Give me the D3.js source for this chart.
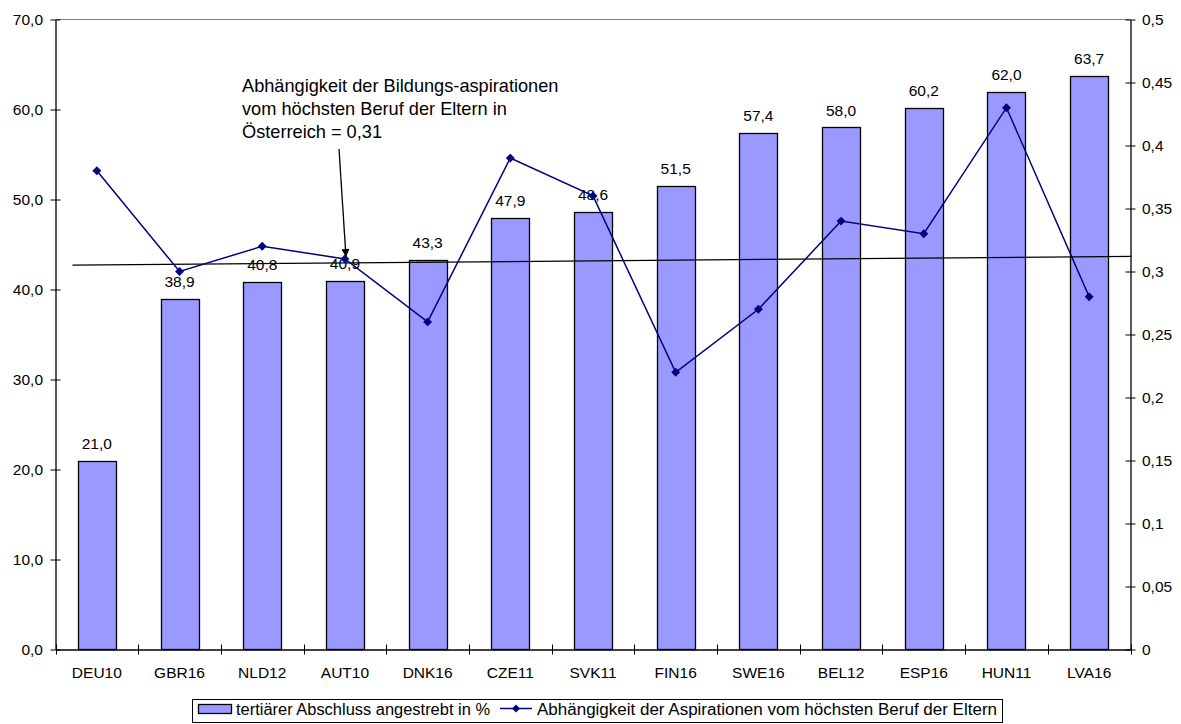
<!DOCTYPE html>
<html><head><meta charset="utf-8">
<script src="https://cdn.jsdelivr.net/npm/d3@7"></script>
<style>body{margin:0;background:#fff;} svg{display:block;font-family:"Liberation Sans",Arial,sans-serif;}</style>
</head><body>
<svg id="c" width="1181" height="724"></svg>
<script>
const categories = ["DEU10","GBR16","NLD12","AUT10","DNK16","CZE11","SVK11","FIN16","SWE16","BEL12","ESP16","HUN11","LVA16"];
const barValues = [21.0,38.9,40.8,40.9,43.3,47.9,48.6,51.5,57.4,58.0,60.2,62.0,63.7];
const lineValues = [0.38,0.30,0.32,0.31,0.26,0.39,0.36,0.22,0.27,0.34,0.33,0.43,0.28];
const leftTicks = [0,10,20,30,40,50,60,70];
const rightTicks = [0,0.05,0.1,0.15,0.2,0.25,0.3,0.35,0.4,0.45,0.5];
const trendValues = [0.305,0.312];
const barName = "tertiärer Abschluss angestrebt in %";
const lineName = "Abhängigkeit der Aspirationen vom höchsten Beruf der Eltern";
const annotation = ["Abhängigkeit der Bildungs-aspirationen","vom höchsten Beruf der Eltern in","Österreich = 0,31"];

const svg = d3.select("#c");
const L = 55.5, R = 1130.5, T = 19.5, B = 649.5;
const FS = 15.5;
const x = d3.scaleBand().domain(categories).range([L, R]);
const yL = d3.scaleLinear().domain([0,70]).range([B, T]);
const yR = d3.scaleLinear().domain([0,0.5]).range([B, T]);
const fmtL = d => d3.format(".1f")(d).replace(".", ",");
const fmtR = d => String(+d.toFixed(2)).replace(".", ",");
const diamondType = { draw(ctx, size){ const r = Math.sqrt(size/2); ctx.moveTo(0,-r); ctx.lineTo(r,0); ctx.lineTo(0,r); ctx.lineTo(-r,0); ctx.closePath(); } };

// top border
svg.append("line").attr("x1",L).attr("x2",R).attr("y1",T).attr("y2",T).attr("stroke","#808080").attr("stroke-width",1);

// bars
const bw = 38;
svg.selectAll("rect.bar").data(barValues).enter().append("rect")
  .attr("x",(d,i)=>Math.round(x(categories[i])+x.bandwidth()/2-bw/2)+0.5)
  .attr("y",d=>Math.round(yL(d))+0.5)
  .attr("width",bw).attr("height",d=>B-Math.round(yL(d))-0.5)
  .attr("fill","#9999FF").attr("stroke","#000").attr("stroke-width",1.3);

// axes
const axL = d3.axisLeft(yL).tickValues(leftTicks).tickFormat(fmtL).tickSizeInner(5).tickSizeOuter(0).tickPadding(7.5);
const gL = svg.append("g").attr("transform",`translate(${L},0)`).call(axL);
const axR = d3.axisRight(yR).tickValues(rightTicks).tickFormat(fmtR).tickSizeInner(5).tickSizeOuter(0).tickPadding(6.5);
const gR = svg.append("g").attr("transform",`translate(${R},0)`).call(axR);
const axB = d3.axisBottom(x).tickSize(0).tickPadding(17);
const gB = svg.append("g").attr("transform",`translate(0,${B})`).call(axB);
[gL,gR,gB].forEach(g=>{
  g.attr("font-size",FS).attr("font-family","Liberation Sans, Arial, sans-serif");
  g.select(".domain").attr("stroke","#000").attr("stroke-width",1.3);
  g.selectAll("text").attr("fill","#000");
  g.selectAll(".tick line").attr("stroke","#000");
});
gL.selectAll(".tick line").attr("x1",5);
gR.selectAll(".tick line").attr("x1",-5);
const sep = d3.range(categories.length+1).map(i=>L + i*x.step());
svg.selectAll("line.sep").data(sep).enter().append("line")
  .attr("x1",d=>Math.round(d)+0.5).attr("x2",d=>Math.round(d)+0.5).attr("y1",B-5).attr("y2",B+5).attr("stroke","#000");

// bar labels
svg.selectAll("text.bl").data(barValues).enter().append("text")
  .attr("x",(d,i)=>x(categories[i])+x.bandwidth()/2)
  .attr("y",d=>yL(d)-12)
  .attr("text-anchor","middle").attr("font-size",FS).text(d=>fmtL(d));

// trend line
svg.append("line").attr("x1",L+17).attr("x2",R+1)
  .attr("y1",yR(trendValues[0])).attr("y2",yR(trendValues[1]))
  .attr("stroke","#000").attr("stroke-width",1.2);

// line series
const lineGen = d3.line().x((d,i)=>x(categories[i])+x.bandwidth()/2).y(d=>yR(d));
svg.append("path").datum(lineValues).attr("d",lineGen).attr("fill","none").attr("stroke","#000080").attr("stroke-width",1.5);
const diamond = d3.symbol().type(diamondType).size(40);
svg.selectAll("path.m").data(lineValues).enter().append("path")
  .attr("d",diamond)
  .attr("transform",(d,i)=>`translate(${x(categories[i])+x.bandwidth()/2},${yR(d)})`)
  .attr("fill","#000080");

// annotation
const ann = svg.append("text").attr("font-size",18.2).attr("fill","#000");
annotation.forEach((t,i)=>ann.append("tspan").attr("x",242).attr("y",92+i*23).text(t));
svg.append("defs").append("marker").attr("id","ah").attr("viewBox","0 0 10 10").attr("refX",10).attr("refY",5)
  .attr("markerWidth",9).attr("markerHeight",8).attr("markerUnits","userSpaceOnUse").attr("orient","auto")
  .append("path").attr("d","M0,0 L10,5 L0,10 z").attr("fill","#000");
svg.append("line").attr("x1",339).attr("y1",149).attr("x2",346).attr("y2",257)
  .attr("stroke","#000").attr("stroke-width",1.3).attr("marker-end","url(#ah)");

// legend
const lg = svg.append("g");
lg.append("rect").attr("x",192.5).attr("y",699.5).attr("width",810).attr("height",23).attr("fill","#fff").attr("stroke","#000").attr("stroke-width",1);
lg.append("rect").attr("x",198.5).attr("y",704.5).attr("width",33).attr("height",9).attr("fill","#9999FF").attr("stroke","#000").attr("stroke-width",1.3);
lg.append("text").attr("x",236).attr("y",714.5).attr("font-size",16).attr("textLength",254).attr("lengthAdjust","spacingAndGlyphs").text(barName);
const lx1 = 500, lx2 = 532;
lg.append("line").attr("x1",lx1).attr("x2",lx2).attr("y1",708.5).attr("y2",708.5).attr("stroke","#000080").attr("stroke-width",1.5);
lg.append("path").attr("d",d3.symbol().type(diamondType).size(32)).attr("transform",`translate(${(lx1+lx2)/2},708.5)`).attr("fill","#000080");
lg.append("text").attr("x",537).attr("y",714.5).attr("font-size",16).attr("textLength",460).attr("lengthAdjust","spacingAndGlyphs").text(lineName);
</script>
</body></html>
